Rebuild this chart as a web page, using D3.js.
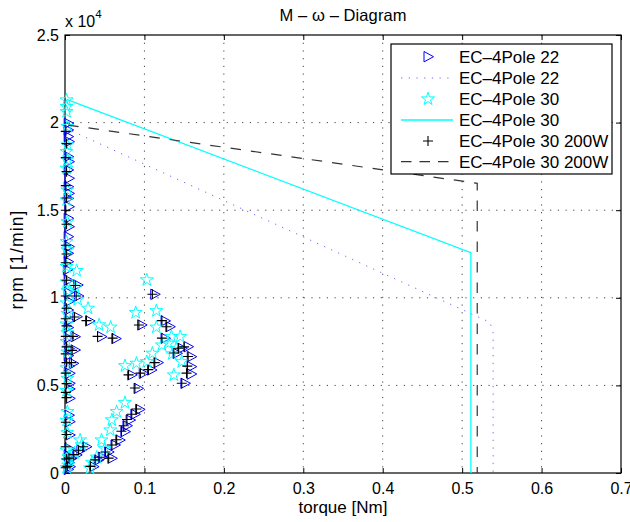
<!DOCTYPE html>
<html><head><meta charset="utf-8">
<script src="https://cdn.jsdelivr.net/npm/d3@7"></script>
<style>body{margin:0;background:#fff}svg{display:block}text{font-family:"Liberation Sans",Arial,sans-serif}</style>
</head><body><svg id="c" width="630" height="522"></svg>
<script>
const title = "M \u2013 \u03c9 \u2013 Diagram";
const xLabel = "torque [Nm]";
const yLabel = "rpm [1/min]";
const xTicks = [0,0.1,0.2,0.3,0.4,0.5,0.6,0.7];
const yTicks = [0,5000,10000,15000,20000,25000];
const legendLabels = ["EC\u20134Pole 22","EC\u20134Pole 22","EC\u20134Pole 30","EC\u20134Pole 30","EC\u20134Pole 30 200W","EC\u20134Pole 30 200W"];

// line curves [torque, rpm]
const line22 = [[0.0,19700],[0.535,8600],[0.539,8000],[0.539,0]];
const line30 = [[0.002,21330],[0.511,12574],[0.511,0]];
const line30w = [[0.004,19860],[0.519,16535],[0.519,0]];

// measured points, triangles (EC-4Pole 22)
const pts22 = [
[0.004,200],[0.005,600],[0.004,1000],[0.005,1400],[0.006,2170],[0.006,2930],[0.005,3300],[0.006,4260],[0.006,4800],[0.006,5120],[0.006,5690],[0.005,6100],[0.004,6700],[0.005,7100],[0.004,7700],[0.004,8300],[0.005,8700],[0.004,9300],[0.005,9800],[0.004,10300],[0.004,11000],[0.003,11600],[0.004,12060],[0.004,12540],[0.005,12920],[0.004,13490],[0.005,14060],[0.004,14540],[0.005,15200],[0.004,15680],[0.005,15960],[0.004,16340],[0.005,16820],[0.004,17300],[0.005,17770],[0.004,18060],[0.005,18910],[0.004,19200],[0.004,19580],[0.004,19960],
[0.016,10730],[0.017,10100],[0.031,8680],[0.015,8920],[0.0126,7780],[0.0126,7020],[0.0105,6260],
[0.046,7780],[0.064,7670],[0.0965,8450],[0.113,10200],
[0.126,8680],[0.132,8350],[0.126,7690],[0.155,7210],[0.159,6640],[0.159,6070],[0.159,5650],[0.147,7120],[0.141,6830],[0.151,5120],[0.117,6300],[0.109,5880],[0.0985,5690],[0.084,5600],[0.092,4830],
[0.094,3630],[0.088,3350],[0.082,3025],[0.078,2700],[0.0755,2360],[0.069,1880],[0.063,1600],[0.059,840],[0.055,1200],[0.042,740],[0.036,360],[0.047,900],
[0.027,1500],[0.0147,1030],[0.0084,840],[0.0063,360],[0.02,1300]
];
// measured points, pentagrams (EC-4Pole 30)
const pts30 = [
[0.002,21290],[0.002,20910],[0.002,20620],[0.003,19770],[0.003,18720],[0.002,18340],[0.003,17870],[0.002,17390],[0.003,16150],[0.002,15580],[0.003,14340],[0.002,13200],[0.003,12730],[0.002,11780],[0.002,10900],[0.003,10400],[0.002,9700],[0.003,9100],[0.002,8500],[0.003,8000],[0.002,7500],[0.003,6900],[0.002,6000],[0.003,5400],[0.002,4700],[0.003,3500],[0.002,3000],[0.003,2300],[0.002,1300],[0.003,700],[0.002,300],
[0.0147,11550],[0.029,9400],[0.013,10600],[0.016,9900],
[0.043,8450],[0.0575,8320],[0.089,9150],[0.103,11020],[0.115,9260],[0.115,8320],
[0.0755,6120],[0.09,6260],[0.103,6350],[0.11,6830],[0.134,7780],[0.145,7780],[0.147,6350],[0.137,5590],[0.13,7400],[0.14,7100],[0.122,7300],[0.135,6800],
[0.0755,4010],[0.065,3500],[0.059,3030],[0.057,2450],[0.046,1880],[0.05,1400],[0.04,900],[0.0315,280],[0.034,600],
[0.019,1880],[0.021,1600],[0.012,1150],[0.005,900],[0.004,450]
];
// measured points, plus (EC-4Pole 30 200W)
const pts30w = [
[0.001,300],[0.002,800],[0.001,1500],[0.002,2200],[0.001,2900],[0.002,4300],[0.001,4600],[0.002,5100],[0.001,5700],[0.002,6300],[0.001,6800],[0.002,7200],[0.001,7800],[0.002,8400],[0.001,8800],[0.002,9400],[0.001,10100],[0.002,11000],[0.001,12000],[0.002,12500],[0.001,13000],[0.002,14200],[0.001,15000],[0.002,15700],[0.001,16400],[0.002,17200],[0.001,18000],[0.002,18800],[0.001,19500],
[0.013,10700],[0.014,10100],[0.027,8700],[0.012,8900],[0.01,7800],[0.009,7000],[0.008,6300],
[0.041,7800],[0.06,7700],[0.093,8450],[0.11,10200],
[0.122,8700],[0.128,8350],[0.122,7700],[0.15,7200],[0.155,6650],[0.154,6100],[0.153,5700],[0.143,7120],[0.137,6850],[0.147,5120],[0.113,6300],[0.105,5900],[0.095,5700],[0.08,5600],[0.088,4850],
[0.09,3650],[0.084,3350],[0.078,3050],[0.074,2700],[0.071,2380],[0.065,1900],[0.059,1600],[0.055,850],[0.051,1200],[0.038,750],[0.032,380],[0.043,900],
[0.023,1500],[0.011,1050],[0.005,850],[0.003,380],[0.017,1300]
];

const svg=d3.select("#c");
const L=65,R=621,T=35,B=473;
const x=d3.scaleLinear().domain([0,0.7]).range([L,R]);
const y=d3.scaleLinear().domain([0,25000]).range([B,T]);
const font=16;

// grid
const grid=svg.append("g").attr("stroke","#444").attr("stroke-width",1).attr("stroke-dasharray","1.2,6.5");
xTicks.slice(1,-1).forEach(t=>grid.append("line").attr("x1",x(t)).attr("x2",x(t)).attr("y1",T).attr("y2",B));
yTicks.slice(1,-1).forEach(t=>grid.append("line").attr("x1",L).attr("x2",R).attr("y1",y(t)).attr("y2",y(t)));

// axes with inward ticks on all sides
const tk=5;
const axB=d3.axisBottom(x).tickValues(xTicks).tickSize(-tk).tickPadding(10).tickFormat(d=>String(+d.toFixed(1)));
const axT=d3.axisTop(x).tickValues(xTicks).tickSize(-tk).tickFormat("");
const axL=d3.axisLeft(y).tickValues(yTicks).tickSize(-tk).tickPadding(6).tickFormat(d=>String(d/1e4));
const axR=d3.axisRight(y).tickValues(yTicks).tickSize(-tk).tickFormat("");
function style(g){g.select(".domain").remove();g.selectAll("line").attr("stroke","#000");g.selectAll("text").attr("font-size",font).attr("fill","#000").attr("font-family","Liberation Sans, Arial, sans-serif");}
svg.append("g").attr("transform",`translate(0,${B})`).call(axB).call(style);
svg.append("g").attr("transform",`translate(0,${T})`).call(axT).call(style);
svg.append("g").attr("transform",`translate(${L},0)`).call(axL).call(style);
svg.append("g").attr("transform",`translate(${R},0)`).call(axR).call(style);
svg.append("rect").attr("x",L).attr("y",T).attr("width",R-L).attr("height",B-T).attr("fill","none").attr("stroke","#000").attr("stroke-width",1.2);

// symbols
const triPath="M-4,-5.2L5.5,0L-4,5.2Z";
function starPath(r){const ri=r*0.382;let p=[];for(let i=0;i<10;i++){const a=-Math.PI/2+i*Math.PI/5;const rr=i%2?ri:r;p.push([rr*Math.cos(a),rr*Math.sin(a)]);}return "M"+p.map(q=>q[0].toFixed(2)+","+q[1].toFixed(2)).join("L")+"Z";}
const stPath=starPath(6.8);
const plPath="M-5,0L5,0M0,-5L0,5";

const line=d3.line().x(d=>x(d[0])).y(d=>y(d[1]));

// series 22
svg.append("g").selectAll("path").data(pts22).join("path").attr("d",triPath).attr("transform",d=>`translate(${x(d[0])},${y(d[1])})`).attr("fill","none").attr("stroke","#0000ff").attr("stroke-width",1);
svg.append("path").datum(line22).attr("d",line).attr("fill","none").attr("stroke","#6f6fff").attr("stroke-width",1).attr("stroke-dasharray","1.3,6.4");
// series 30
svg.append("g").selectAll("path").data(pts30).join("path").attr("d",stPath).attr("transform",d=>`translate(${x(d[0])},${y(d[1])})`).attr("fill","none").attr("stroke","#00ffff").attr("stroke-width",1);
svg.append("path").datum(line30).attr("d",line).attr("fill","none").attr("stroke","#00ffff").attr("stroke-width",1.3);
// series 30 200W
svg.append("g").selectAll("path").data(pts30w).join("path").attr("d",plPath).attr("transform",d=>`translate(${x(d[0])},${y(d[1])})`).attr("fill","none").attr("stroke","#000").attr("stroke-width",1.1);
svg.append("path").datum(line30w).attr("d",line).attr("fill","none").attr("stroke","#333").attr("stroke-width",1.2).attr("stroke-dasharray","10.5,10");

// labels
svg.append("text").attr("x",(L+R)/2).attr("y",21).attr("text-anchor","middle").attr("font-size",16.5)
  .attr("textLength",127).attr("lengthAdjust","spacing").text(title);
svg.append("text").attr("x",(L+R)/2).attr("y",513).attr("text-anchor","middle").attr("font-size",17)
  .attr("textLength",89).attr("lengthAdjust","spacing").text(xLabel);
svg.append("text").attr("transform",`translate(23,260) rotate(-90)`).attr("text-anchor","middle").attr("font-size",17.5)
  .attr("textLength",99).attr("lengthAdjust","spacing").text(yLabel);
const ex=svg.append("text").attr("x",L).attr("y",27).attr("font-size",font);
ex.append("tspan").text("x 10");
ex.append("tspan").attr("dy",-9).attr("font-size",11.5).text("4");

// legend
const lg=svg.append("g");
lg.append("rect").attr("x",391).attr("y",44).attr("width",221).attr("height",130).attr("fill","#fff").attr("stroke","#000").attr("stroke-width",1.2);
const rows=[56.7,78,99,120,141,161.7];
const lx0=401,lx1=453,lxc=428;
lg.append("path").attr("d",triPath).attr("transform",`translate(${lxc},${rows[0]})`).attr("fill","none").attr("stroke","#0000ff");
lg.append("line").attr("x1",lx0).attr("x2",lx1).attr("y1",rows[1]).attr("y2",rows[1]).attr("stroke","#6f6fff").attr("stroke-dasharray","1.3,6.4");
lg.append("path").attr("d",stPath).attr("transform",`translate(${lxc},${rows[2]})`).attr("fill","none").attr("stroke","#00ffff");
lg.append("line").attr("x1",lx0).attr("x2",lx1).attr("y1",rows[3]).attr("y2",rows[3]).attr("stroke","#00ffff").attr("stroke-width",1.3);
lg.append("path").attr("d",plPath).attr("transform",`translate(${lxc},${rows[4]})`).attr("stroke","#000").attr("stroke-width",1.1);
lg.append("line").attr("x1",lx0).attr("x2",lx1).attr("y1",rows[5]).attr("y2",rows[5]).attr("stroke","#333").attr("stroke-width",1.2).attr("stroke-dasharray","10.5,8");
legendLabels.forEach((t,i)=>lg.append("text").attr("x",459).attr("y",rows[i]+6).attr("font-size",17).text(t));
</script></body></html>
